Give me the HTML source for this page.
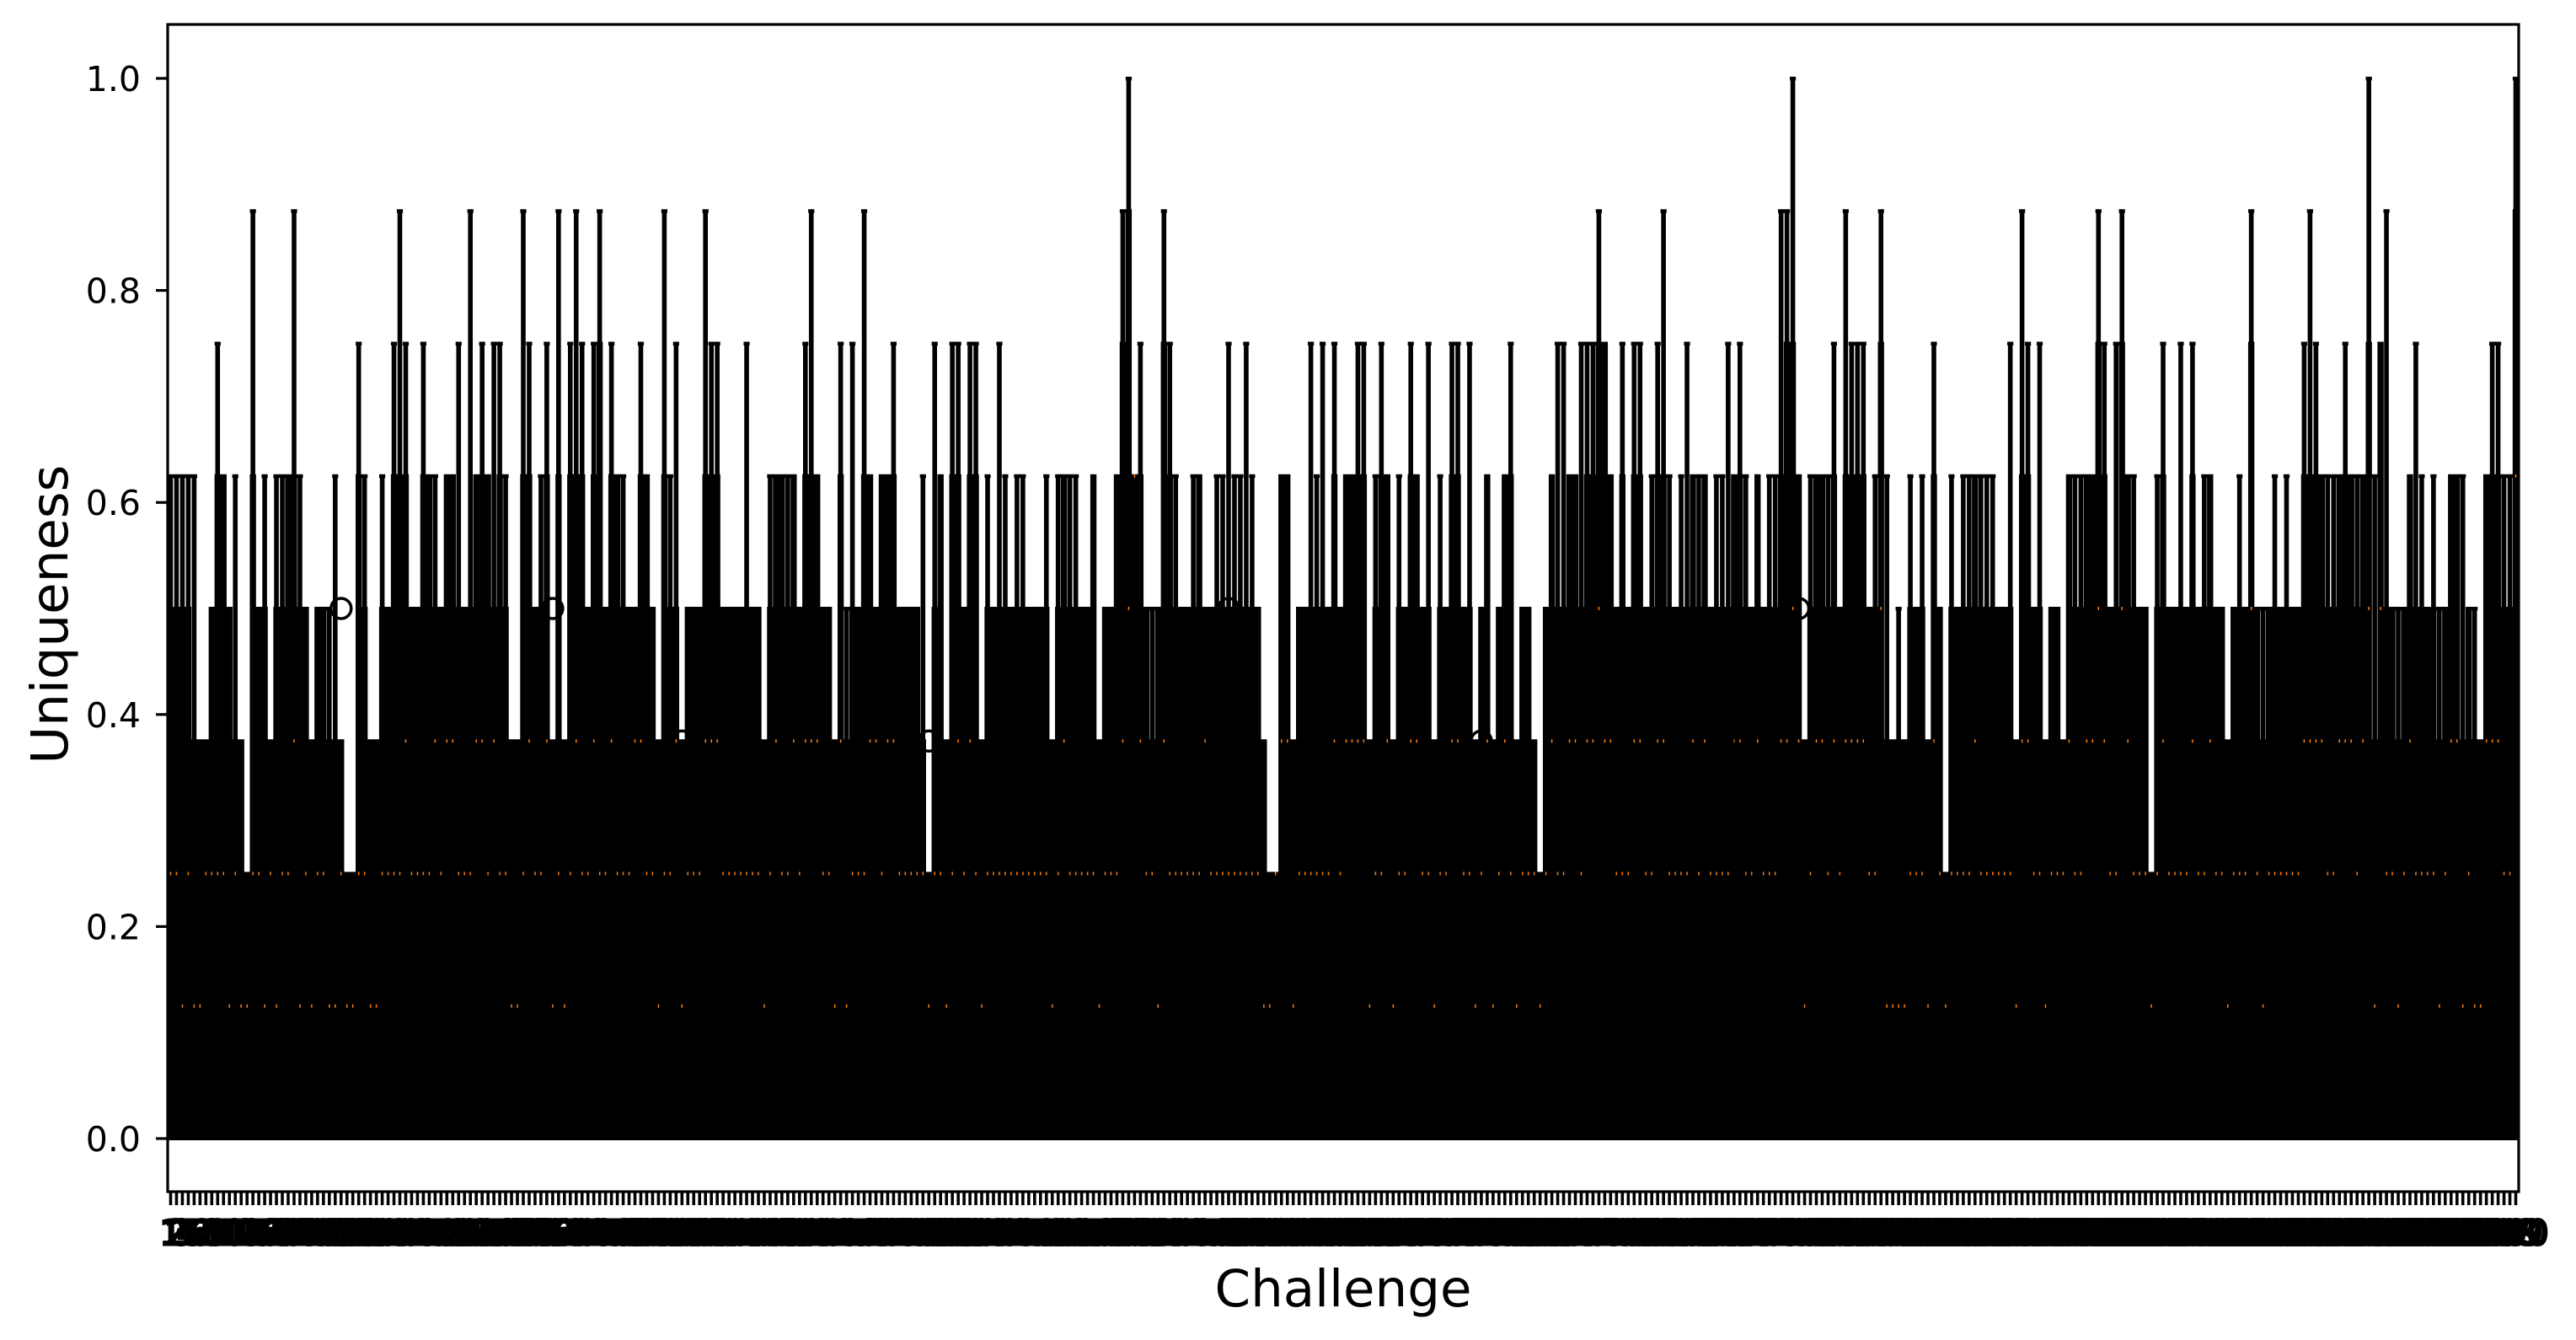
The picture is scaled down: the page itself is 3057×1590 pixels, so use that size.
<!DOCTYPE html>
<html><head><meta charset="utf-8"><title>Uniqueness by Challenge</title>
<style>html,body{margin:0;padding:0;background:#fff;}svg{display:block;}</style></head>
<body>
<svg id="chart" xmlns="http://www.w3.org/2000/svg" width="3057" height="1590" viewBox="0 0 3057 1590" font-family="DejaVu Sans, Liberation Sans, sans-serif">
<rect x="0" y="0" width="3057" height="1590" fill="#fff"/>
<g id="boxes"></g>
<g id="axes"></g>
<text x="1594" y="1550" font-size="61" text-anchor="middle" fill="#000">Challenge</text>
<text x="0" y="0" font-size="61" text-anchor="middle" fill="#000" transform="translate(80,729) rotate(-90)">Uniqueness</text>
</svg>
<script>
// values in eighths (0.125 units)
const q3Str =
"4444333455"+"4332544344"+"5544344333"+"2254334455"+"5445544554"+"4455545433"+"5544"+
"5353555456"+"4554445543"+"5443444555"+"4444444345"+"5454555443"+"5344554555"+"4444324"+
"5355455344"+"4444444443"+"4544445344"+"5675543465"+"4444544444"+"4444432255"+"3444444"+
"5455553455"+"3445544344"+"5544345345"+"5344324544"+"5545566545"+"4554455444"+"4545444"+
"4554454445"+"6653455454"+"5555446333"+"3444354244"+"4454444443"+"5544344354"+"4556544"+
"6544424544"+"4454454434"+"4464344444"+"4555544555"+"4563644345"+"4444345534"+"33555447";
const maxStr =
"5555533465"+"4532745355"+"5754344453"+"2265335467"+"6446554556"+"4756566533"+"7645"+
"6373676467"+"4655446543"+"7563444766"+"4444644355"+"5554675443"+"6464754556"+"4444526"+
"5366466354"+"6545544453"+"5555445344"+"5785644476"+"5445544556"+"5565432255"+"3446564"+
"6455663565"+"3546546354"+"6646345345"+"6344324566"+"5566676546"+"4664567545"+"6555455"+
"6565454557"+"7853555564"+"7666457534"+"3545364254"+"5555554463"+"7646344355"+"5557646"+
"7554425644"+"6464554434"+"5474445454"+"4676555565"+"5585374435"+"6545435553"+"43366558";
const q1Str = "0".repeat(400);
const medStr =
"2212112222"+"1211221212"+"2312122112"+"1122112222"+"3222232332"+"2233232211"+"2322"+
"3121232232"+"2322233221"+"2231222333"+"2222222123"+"2232333221"+"3122233233"+"2222212"+
"2123232122"+"2222222221"+"2322222122"+"2345322132"+"2222232222"+"2222211233"+"1222222"+
"3233331223"+"1223322122"+"3322123123"+"2122212322"+"3323343322"+"2332233222"+"2323222"+
"2332232223"+"3431233232"+"3333224111"+"1222132122"+"2232222221"+"3322122232"+"2334322"+
"4322212322"+"2232232212"+"2242122222"+"2333322333"+"2341422123"+"2222123312"+"11333225";
const outlierBox = [30, 66, 88, 130, 174, 181, 224, 265, 278, 319];
const outlierVal = [0.5, 0.5, 0.375, 0.375, 0.125, 0.5, 0.375, 0.375, 0.5, 0.125];
const yTicks = [0.0, 0.2, 0.4, 0.6, 0.8, 1.0];
const yTickLabels = ["0.0", "0.2", "0.4", "0.6", "0.8", "1.0"];

const N = q3Str.length;
const categories = Array.from({length: N}, (_, i) => String(i + 1));
const q3 = q3Str.split("").map(c => +c / 8);
const whiskerMax = maxStr.split("").map(c => +c / 8);
const q1 = q1Str.split("").map(c => +c / 8);
const medians = medStr.split("").map(c => +c / 8);

const L = 199, R = 2989, T = 29, B = 1414;
const step = (R - L) / N;
function xScale(i) { return L + (i + 0.5) * step; } // i zero-based
function yScale(v) { return 1351 - v * 1258; }

const NS = "http://www.w3.org/2000/svg";
const gb = document.getElementById("boxes");
const ga = document.getElementById("axes");
function mk(tag, attrs, parent) {
  const e = document.createElementNS(NS, tag);
  for (const k in attrs) e.setAttribute(k, attrs[k]);
  parent.appendChild(e);
  return e;
}

for (let i = 0; i < N; i++) {
  const cx = xScale(i);
  const bw = step + 0.4;
  const yTop = yScale(q3[i]), yBot = yScale(q1[i]);
  const box = mk("rect", {x: cx - bw / 2, y: yTop - 2, width: bw, height: (yBot - yTop) + 4, fill: "#000"}, gb);
  
  
  if (whiskerMax[i] > q3[i]) {
    const yW = yScale(whiskerMax[i]);
    const wh = mk("rect", {x: cx - 2.8, y: yW, width: 5.6, height: yTop - yW, fill: "#000"}, gb);
    
    
    const cap = mk("rect", {x: cx - 3.6, y: yW - 2, width: 7.2, height: 4.5, fill: "#000"}, gb);
    
    
  }
  const ym = yScale(medians[i]);
  const med = mk("rect", {x: cx - 0.75, y: ym - 2, width: 1.5, height: 4, fill: "#ff7f0e"}, gb);
  
  
}

for (let k = 0; k < outlierBox.length; k++) {
  const cx = xScale(outlierBox[k] - 1), cy = yScale(outlierVal[k]);
  const c = mk("circle", {cx: cx, cy: cy, r: 12, fill: "none", stroke: "#000", "stroke-width": 3.5}, gb);
  
  
}

// axes frame
const frame = mk("rect", {x: L, y: T, width: R - L, height: B - T, fill: "none", stroke: "#000", "stroke-width": 3.2}, ga);



// y ticks
for (let k = 0; k < yTicks.length; k++) {
  const y = yScale(yTicks[k]);
  const t = mk("line", {x1: L - 14, x2: L, y1: y, y2: y, stroke: "#000", "stroke-width": 3.2}, ga);
  
  
  const lb = mk("text", {x: 167, y: y + 15, "font-size": 41, "text-anchor": "end", fill: "#000"}, ga);
  lb.textContent = yTickLabels[k];
  
  
}

// x ticks and labels
for (let i = 0; i < N; i++) {
  const x = xScale(i);
  const t = mk("line", {x1: x, x2: x, y1: B, y2: B + 16, stroke: "#000", "stroke-width": 3.6}, ga);
  
  
  const lb = mk("text", {x: x, y: 1477, "font-size": 41, "text-anchor": "middle", fill: "#000", stroke: "#000", "stroke-width": 3}, ga);
  lb.textContent = categories[i];
  
  
}
</script>
</body></html>
